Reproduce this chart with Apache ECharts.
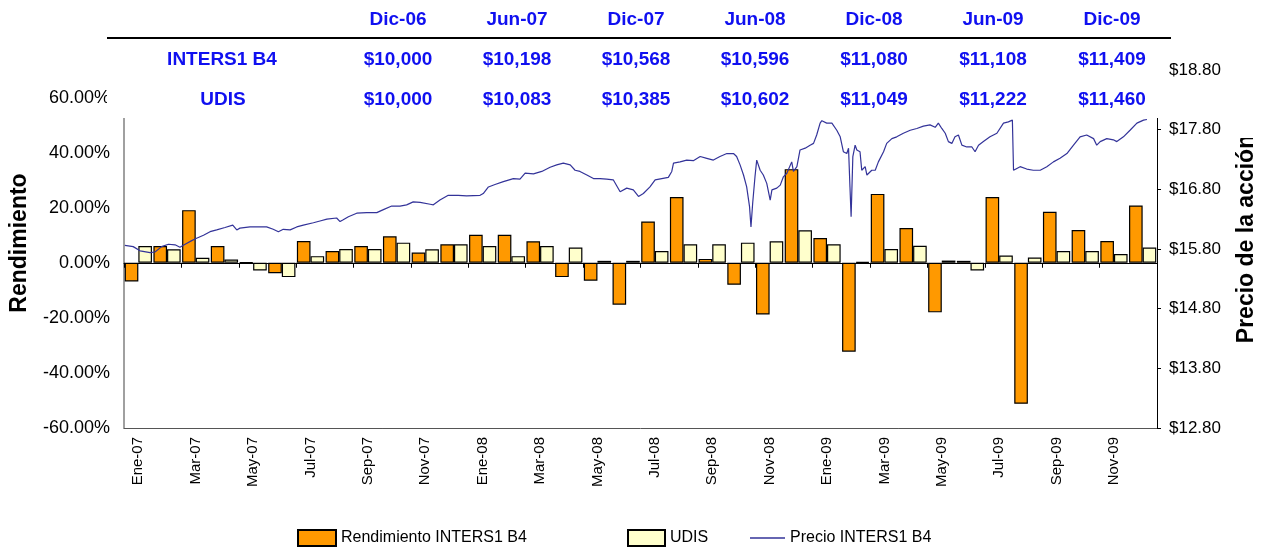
<!DOCTYPE html>
<html>
<head>
<meta charset="utf-8">
<title>Rendimiento INTERS1 B4</title>
<script src="https://cdn.jsdelivr.net/npm/echarts/dist/echarts.min.js"></script>
<style>
  html, body { margin: 0; padding: 0; background: #fff; }
  #chart { width: 1267px; height: 553px; }
</style>
</head>
<body>
<div id="chart"></div>
<script>
// meses (eje de categorias)
const months = [
  'Ene-07', 'Feb-07', 'Mar-07', 'Abr-07', 'May-07', 'Jun-07', 'Jul-07', 'Ago-07', 'Sep-07', 'Oct-07', 'Nov-07', 'Dic-07',
  'Ene-08', 'Feb-08', 'Mar-08', 'Abr-08', 'May-08', 'Jun-08', 'Jul-08', 'Ago-08', 'Sep-08', 'Oct-08', 'Nov-08', 'Dic-08',
  'Ene-09', 'Feb-09', 'Mar-09', 'Abr-09', 'May-09', 'Jun-09', 'Jul-09', 'Ago-09', 'Sep-09', 'Oct-09', 'Nov-09', 'Dic-09'
]

// rendimiento mensual (%)
const rendInters = [
  -6.8, 6.1, 19.1, 6.1, 0.2, -3.8, 7.9, 4.3, 6.1, 9.6, 3.7, 6.7,
  10.2, 10.2, 7.8, -5.2, -6.5, -15.2, 15.0, 23.9, 1.4, -8.0, -18.8, 34.0,
  9.0, -32.3, 25.0, 12.6, -18.0, 0.7, 23.9, -51.2, 18.5, 11.9, 7.9, 20.8
]
const rendUdis = [
  6.1, 4.9, 1.8, 1.2, -2.8, -5.2, 2.4, 5.0, 5.0, 7.3, 4.9, 6.7,
  6.1, 2.4, 6.1, 5.5, 0.7, 0.7, 4.3, 6.7, 6.7, 7.3, 7.8, 11.8,
  6.7, 0.3, 5.0, 6.2, 0.8, -2.8, 2.6, 1.9, 4.3, 4.3, 3.2, 5.5
]

// precio de la accion: posicion en meses desde Ene-07 y precio
const priceT = [
  0.03, 0.32, 0.56, 0.91, 1.08, 1.31, 1.55, 1.78, 1.95, 2.13, 2.36, 2.53, 2.77, 3.00, 3.23, 3.52, 3.79, 3.93, 4.04, 4.39,
  4.97, 5.20, 5.38, 5.55, 5.79, 6.02, 6.25, 6.60, 6.83, 7.07, 7.41, 7.53, 7.64, 7.82, 8.11, 8.46, 8.81, 9.04, 9.33, 9.62,
  9.85, 10.08, 10.32, 10.67, 10.78, 11.01, 11.30, 11.65, 11.94, 12.41, 12.52, 12.70, 12.93, 13.22, 13.57, 13.80, 13.98, 14.27, 14.56, 14.85,
  15.08, 15.31, 15.55, 15.72, 15.89, 16.13, 16.36, 16.59, 16.82, 17.05, 17.29, 17.52, 17.75, 17.93, 18.10, 18.33, 18.51, 18.74, 18.97, 19.09,
  19.15, 19.38, 19.61, 19.84, 20.08, 20.31, 20.54, 20.77, 21.01, 21.24, 21.35, 21.47, 21.59, 21.70, 21.80, 21.85, 21.91, 21.99, 22.05, 22.17,
  22.28, 22.40, 22.52, 22.58, 22.75, 22.87, 22.98, 23.10, 23.27, 23.33, 23.45, 23.56, 23.74, 23.91, 24.03, 24.14, 24.26, 24.32, 24.49, 24.67,
  24.84, 24.96, 25.07, 25.19, 25.25, 25.30, 25.34, 25.40, 25.48, 25.54, 25.65, 25.71, 25.83, 25.89, 25.94, 26.06, 26.18, 26.29, 26.47, 26.58,
  26.76, 26.93, 27.16, 27.40, 27.63, 27.86, 28.09, 28.27, 28.38, 28.50, 28.62, 28.73, 28.85, 28.96, 29.08, 29.20, 29.37, 29.55, 29.66, 29.78,
  29.95, 30.18, 30.42, 30.65, 30.82, 30.96, 31.00, 31.23, 31.46, 31.69, 31.93, 32.16, 32.39, 32.62, 32.86, 33.09, 33.32, 33.55, 33.79, 33.90,
  34.02, 34.25, 34.48, 34.60, 34.83, 35.06, 35.30, 35.53, 35.65
]
const priceV = [
  15.86, 15.84, 15.77, 15.74, 15.75, 15.84, 15.88, 15.87, 15.83, 15.88, 15.94, 15.98, 16.03, 16.09, 16.12, 16.16, 16.20, 16.12, 16.15, 16.17,
  16.17, 16.13, 16.09, 16.13, 16.12, 16.17, 16.20, 16.24, 16.27, 16.30, 16.32, 16.26, 16.29, 16.34, 16.40, 16.41, 16.41, 16.46, 16.52, 16.52,
  16.54, 16.59, 16.58, 16.55, 16.54, 16.62, 16.70, 16.70, 16.69, 16.70, 16.73, 16.84, 16.88, 16.93, 16.98, 16.97, 17.07, 17.06, 17.10, 17.17,
  17.21, 17.24, 17.21, 17.12, 17.10, 17.04, 16.98, 16.98, 16.97, 16.96, 16.76, 16.82, 16.79, 16.68, 16.73, 16.84, 16.96, 16.98, 17.00, 17.10,
  17.24, 17.26, 17.29, 17.28, 17.35, 17.32, 17.29, 17.35, 17.40, 17.40, 17.35, 17.21, 17.04, 16.84, 16.51, 16.17, 16.57, 17.01, 17.29, 17.12,
  17.04, 16.90, 16.62, 16.79, 16.82, 16.87, 17.01, 17.07, 17.26, 17.10, 17.18, 17.46, 17.49, 17.54, 17.57, 17.71, 17.91, 17.95, 17.91, 17.91,
  17.79, 17.68, 17.43, 17.40, 17.49, 16.84, 16.34, 17.35, 17.54, 17.46, 17.43, 17.12, 17.18, 17.04, 17.01, 17.12, 17.12, 17.26, 17.43, 17.57,
  17.65, 17.68, 17.74, 17.79, 17.82, 17.86, 17.88, 17.84, 17.91, 17.82, 17.74, 17.60, 17.57, 17.68, 17.71, 17.54, 17.51, 17.51, 17.43, 17.54,
  17.60, 17.68, 17.74, 17.91, 17.93, 17.96, 17.12, 17.18, 17.14, 17.12, 17.12, 17.18, 17.26, 17.32, 17.40, 17.54, 17.68, 17.71, 17.65, 17.54,
  17.60, 17.65, 17.63, 17.60, 17.68, 17.79, 17.91, 17.96, 17.97
]

// tabla superior: valor de $10,000 invertidos
const tableDates = ['Dic-06', 'Jun-07', 'Dic-07', 'Jun-08', 'Dic-08', 'Jun-09', 'Dic-09']
const tableInters = [10000, 10198, 10568, 10596, 11080, 11108, 11409]
const tableUdis = [10000, 10083, 10385, 10602, 11049, 11222, 11460]

const FONT = '"Liberation Sans", Arial, sans-serif'
const BLUE = '#1010F0'

const chart = echarts.init(document.getElementById('chart'))

function money(n) {
  return '$' + n.toLocaleString('en-US')
}

// texto y linea de la tabla encima de la grafica
const tableGraphics = [
  { type: 'rect', shape: { x: 107, y: 0, width: 1057, height: 118 }, style: { fill: '#fff' }, z: 100 },
  { type: 'rect', shape: { x: 1228, y: 0, width: 39, height: 138 }, style: { fill: '#fff' }, z: 100 },
  { type: 'line', shape: { x1: 107, y1: 38, x2: 1171, y2: 38 }, style: { stroke: '#000', lineWidth: 2 }, z: 101 },
  {
    type: 'text', x: 222, y: 60, z: 101,
    style: { text: 'INTERS1 B4', fill: BLUE, font: 'bold 19px ' + FONT, textAlign: 'center', textVerticalAlign: 'middle' }
  },
  {
    type: 'text', x: 223, y: 100, z: 101,
    style: { text: 'UDIS', fill: BLUE, font: 'bold 19px ' + FONT, textAlign: 'center', textVerticalAlign: 'middle' }
  }
]
tableDates.forEach((d, i) => {
  const cx = 398 + i * 119
  tableGraphics.push(
    { type: 'text', x: cx, y: 20, z: 101, style: { text: d, fill: BLUE, font: 'bold 19px ' + FONT, textAlign: 'center', textVerticalAlign: 'middle' } },
    { type: 'text', x: cx, y: 60, z: 101, style: { text: money(tableInters[i]), fill: BLUE, font: 'bold 19px ' + FONT, textAlign: 'center', textVerticalAlign: 'middle' } },
    { type: 'text', x: cx, y: 100, z: 101, style: { text: money(tableUdis[i]), fill: BLUE, font: 'bold 19px ' + FONT, textAlign: 'center', textVerticalAlign: 'middle' } }
  )
})

// titulos de los ejes
tableGraphics.push(
  {
    type: 'text', x: 20, y: 243, rotation: Math.PI / 2, z: 50,
    style: { text: 'Rendimiento', fill: '#000', font: 'bold 23px ' + FONT, textAlign: 'center', textVerticalAlign: 'middle' }
  },
  {
    type: 'text', x: 1247, y: 239, rotation: Math.PI / 2, z: 50,
    style: { text: 'Precio de la acción', fill: '#000', font: 'bold 23px ' + FONT, textAlign: 'center', textVerticalAlign: 'middle' }
  }
)

const legendText = { color: '#000', fontSize: 16, fontFamily: FONT }

const option = {
  animation: false,
  backgroundColor: '#fff',
  grid: { left: 124, right: 110, top: 70, bottom: 125, containLabel: false },
  legend: [
    { data: [{ name: 'Rendimiento INTERS1 B4', icon: 'rect' }], left: 297, top: 529, padding: 0, itemWidth: 38, itemHeight: 16, textStyle: legendText },
    { data: [{ name: 'UDIS', icon: 'rect' }], left: 627, top: 529, padding: 0, itemWidth: 37, itemHeight: 16, textStyle: legendText },
    { data: [{ name: 'Precio INTERS1 B4', icon: 'rect' }], left: 750, top: 530, padding: 0, itemWidth: 35, itemHeight: 1.5, textStyle: legendText }
  ],
  xAxis: [
    {
      type: 'category',
      data: months,
      position: 'bottom',
      boundaryGap: true,
      axisLine: { onZero: false, lineStyle: { color: '#555', width: 1 } },
      axisTick: { show: false },
      axisLabel: { interval: 1, rotate: 90, margin: 9, color: '#000', fontSize: 15, fontFamily: FONT }
    },
    {
      type: 'category',
      data: months,
      position: 'top',
      boundaryGap: true,
      axisLine: { onZero: true, onZeroAxisIndex: 0, lineStyle: { color: '#000', width: 1 } },
      axisTick: { show: true, interval: 1, inside: true, length: 5, lineStyle: { color: '#000' } },
      axisLabel: { show: false }
    },
    { type: 'value', min: 0, max: 36, show: false }
  ],
  yAxis: [
    {
      type: 'value',
      position: 'left',
      min: -60,
      max: 70,
      interval: 20,
      axisLine: { show: true, lineStyle: { color: '#808080', width: 1.5 } },
      axisTick: { show: false },
      splitLine: { show: false },
      axisLabel: {
        showMaxLabel: false,
        margin: 14,
        color: '#000',
        fontSize: 18,
        fontFamily: FONT,
        formatter: v => v.toFixed(2) + '%'
      }
    },
    {
      type: 'value',
      position: 'right',
      min: 12.8,
      max: 18.8,
      interval: 1,
      axisLine: { show: true, lineStyle: { color: '#000', width: 1 } },
      axisTick: { show: true, length: 4, lineStyle: { color: '#000' } },
      splitLine: { show: false },
      axisLabel: {
        margin: 12,
        color: '#000',
        fontSize: 17,
        fontFamily: FONT,
        formatter: v => '$' + v.toFixed(2)
      }
    }
  ],
  series: [
    {
      name: 'Rendimiento INTERS1 B4',
      type: 'bar',
      xAxisIndex: 0,
      yAxisIndex: 0,
      data: rendInters,
      barGap: '0%',
      barCategoryGap: '5%',
      itemStyle: { color: '#FF9900', borderColor: '#000', borderWidth: 1.2 }
    },
    {
      name: 'UDIS',
      type: 'bar',
      xAxisIndex: 0,
      yAxisIndex: 0,
      data: rendUdis,
      itemStyle: { color: '#FFFFCC', borderColor: '#000', borderWidth: 1.2 }
    },
    {
      name: 'Precio INTERS1 B4',
      type: 'line',
      xAxisIndex: 2,
      yAxisIndex: 1,
      data: priceT.map((t, i) => [t, priceV[i]]),
      symbol: 'none',
      showSymbol: false,
      z: 5,
      itemStyle: { color: '#333399' },
      lineStyle: { color: '#333399', width: 1.2 }
    }
  ],
  graphic: tableGraphics
}

chart.setOption(option)
</script>
</body>
</html>
